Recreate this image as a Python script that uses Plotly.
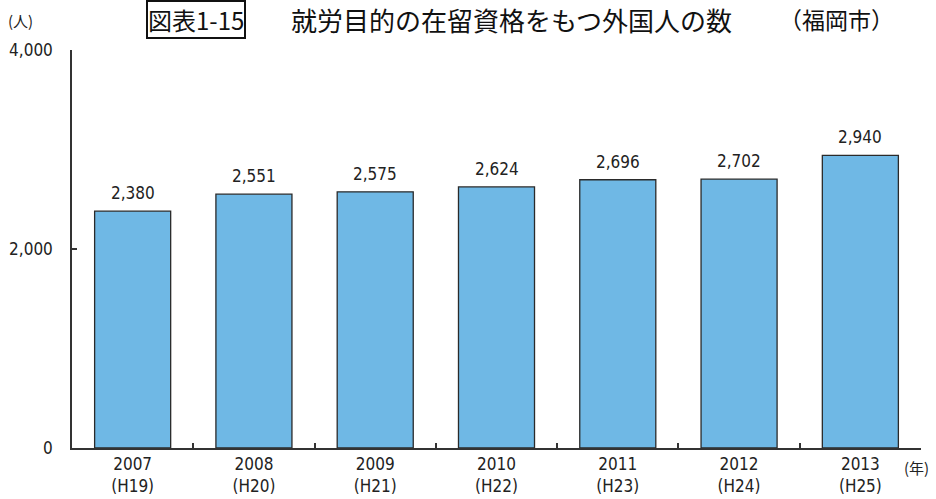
import plotly.graph_objects as go

years = ["2007", "2008", "2009", "2010", "2011", "2012", "2013"]
eras = ["(H19)", "(H20)", "(H21)", "(H22)", "(H23)", "(H24)", "(H25)"]
values = [2380, 2551, 2575, 2624, 2696, 2702, 2940]
y_ticks = [0, 2000, 4000]
y_ticktext = ["0", "2,000", "4,000"]

cats = [f"{y}<br>{e}" for y, e in zip(years, eras)]
num_font = "Liberation Sans Narrow, DejaVu Sans Condensed, Noto Sans CJK JP, sans-serif"
jp_font = "Noto Sans CJK JP, sans-serif"
ink = "#222222"

L, R, T, B = 72, 15, 50, 51

fig = go.Figure(go.Bar(
    x=cats, y=values,
    marker=dict(color="#6FB8E5", line=dict(color="#2a2a2a", width=1.3)),
    hoverinfo="x+y",
))

for c, v in zip(cats, values):
    fig.add_annotation(x=c, y=v, xref="x", yref="y", text=f"{v:,}",
                       yanchor="bottom", yshift=6, showarrow=False,
                       font=dict(size=17, color=ink, family=num_font))

fig.update_layout(
    width=936, height=499,
    margin=dict(l=L, r=R, t=T, b=B, autoexpand=False),
    paper_bgcolor="white", plot_bgcolor="white",
    bargap=0.373,
    showlegend=False,
    font=dict(family=num_font, size=17, color=ink),
)
fig.update_xaxes(
    automargin=False,
    showline=True, linecolor="#333333", linewidth=1.5,
    ticks="inside", tickson="boundaries", ticklen=5, tickcolor="#333333", tickwidth=1.5,
    tickfont=dict(size=17, color=ink, family=num_font),
    showgrid=False,
)
fig.update_yaxes(
    automargin=False,
    range=[0, 4000],
    showline=True, linecolor="#333333", linewidth=1.5,
    ticks="inside", ticklen=5, tickcolor="#333333", tickwidth=1.5,
    tickvals=y_ticks, ticktext=y_ticktext,
    tickfont=dict(size=17, color=ink, family=num_font),
    ticklabelstandoff=14,
    showgrid=False, zeroline=False,
)

def px_ann(text, px, py, size, family, xanchor="left", **kw):
    fig.add_annotation(text=text, xref="paper", yref="paper", x=0, y=1,
                       xshift=px - L, yshift=T - py, xanchor=xanchor, yanchor="middle",
                       showarrow=False, font=dict(size=size, color=kw.pop("color", ink), family=family), **kw)

px_ann("(人)", 6, 20, 15, jp_font)
px_ann("(年)", 902, 467, 15, jp_font)
px_ann("図表1-15", 146, 19, 24, jp_font, color="#111111",
       bordercolor="#111111", borderwidth=2, borderpad=0)
px_ann("就労目的の在留資格をもつ外国人の数", 289, 19, 26, jp_font, color="#111111")
px_ann("（福岡市）", 777, 19, 23, jp_font, color="#111111")

fig.write_html("out.html", config={"displayModeBar": False},
               post_script="document.body.style.margin='0';document.body.style.overflow='hidden';")
